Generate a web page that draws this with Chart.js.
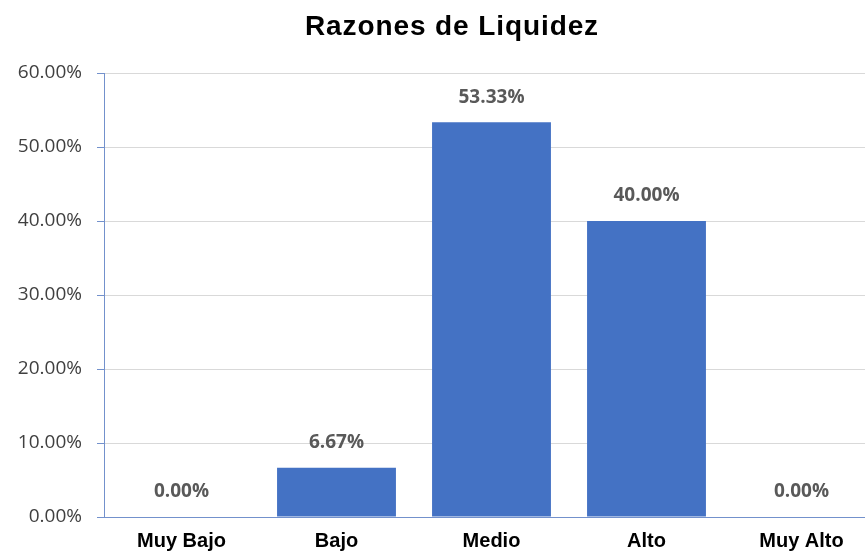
<!DOCTYPE html>
<html>
<head>
<meta charset="utf-8">
<script src="https://cdn.jsdelivr.net/npm/chart.js@4"></script>
<style>
  html, body { margin: 0; padding: 0; background: #fff; overflow: hidden; }
  #wrap { position: relative; width: 879px; height: 552px; }
  #title {
    position: absolute; top: 9px; left: 0; width: 904px;
    text-align: center; white-space: nowrap;
    font: bold 28px/34px "Liberation Sans", Arial, sans-serif;
    letter-spacing: 0.9px; color: #000;
  }
</style>
</head>
<body>
<div id="wrap">
  <canvas id="myChart" width="879" height="552"></canvas>
  <div id="title">Razones de Liquidez</div>
</div>
<script>
const categories = ['Muy Bajo', 'Bajo', 'Medio', 'Alto', 'Muy Alto'];
const values = [0, 6.67, 53.33, 40.00, 0]; // percent
const yTicks = [0, 10, 20, 30, 40, 50, 60];

const axisBlue = '#7391cc';

// draws the "xx.xx%" label above every bar
const barLabels = {
  id: 'barLabels',
  afterDatasetsDraw(chart) {
    const ctx = chart.ctx;
    const meta = chart.getDatasetMeta(0);
    ctx.save();
    ctx.font = 'bold 19px "Open Sans"';
    ctx.fillStyle = '#595959';
    ctx.textAlign = 'center';
    ctx.textBaseline = 'middle';
    meta.data.forEach(function (bar, i) {
      ctx.fillText(values[i].toFixed(2) + '%', bar.x, bar.y - 25);
    });
    ctx.restore();
  }
};

document.addEventListener('DOMContentLoaded', function () {
  const ctx = document.getElementById('myChart').getContext('2d');
  new Chart(ctx, {
    type: 'bar',
    data: {
      labels: categories,
      datasets: [{
        data: values,
        backgroundColor: '#4472C4',
        borderWidth: 0,
        categoryPercentage: 1,
        barPercentage: 0.767
      }]
    },
    options: {
      responsive: false,
      animation: false,
      devicePixelRatio: 1,
      layout: { padding: { left: 0, right: 0, top: 73, bottom: 0 } },
      scales: {
        x: {
          grid: { display: false, drawTicks: false },
          border: { display: true, color: axisBlue, width: 1 },
          ticks: {
            color: '#000',
            padding: 12,
            font: { family: '"Liberation Sans", Arial', size: 20, weight: 'bold' }
          },
          afterFit: function (scale) { scale.height = 35; }
        },
        y: {
          min: 0,
          max: 60,
          afterBuildTicks: function (scale) {
            scale.ticks = yTicks.map(v => ({ value: v }));
          },
          grid: { color: '#d9d9d9', tickColor: axisBlue, tickLength: 7 },
          border: { display: true, color: axisBlue, width: 1 },
          ticks: {
            color: '#404040',
            padding: 15,
            font: { family: '"Open Sans"', size: 19 },
            callback: v => v.toFixed(2) + '%'
          },
          afterFit: function (scale) { scale.width = 104; }
        }
      },
      plugins: {
        legend: { display: false },
        tooltip: { enabled: false },
        title: { display: false }
      }
    },
    plugins: [barLabels]
  });
});
</script>
</body>
</html>
